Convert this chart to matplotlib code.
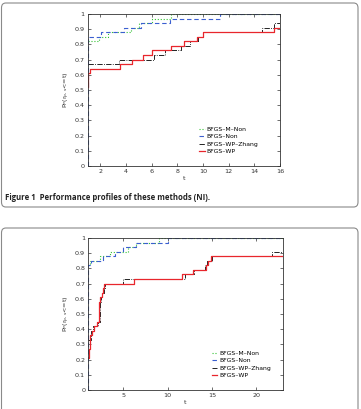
import matplotlib
matplotlib.use("Agg")
import numpy as np
import matplotlib.pyplot as plt
from matplotlib.patches import FancyBboxPatch

# ---- panel 1 (NI) ----
ni_wp_t = [1.0, 1.03, 1.18, 3.52, 4.5, 5.34, 6.0, 7.5, 8.54, 9.5, 10.0, 15.53, 16.0]
ni_wp_p = [0.52, 0.61, 0.64, 0.67, 0.70, 0.73, 0.76, 0.79, 0.82, 0.85, 0.88, 0.91, 0.91]
ni_zhang_t = [1.0, 3.47, 6.2, 7.0, 8.3, 9.0, 9.6, 10.0, 14.57, 15.55, 16.0]
ni_zhang_p = [0.67, 0.70, 0.73, 0.76, 0.79, 0.82, 0.85, 0.88, 0.91, 0.94, 0.94]
ni_non_t = [1.0, 1.0, 2.09, 3.83, 5.2, 7.4, 11.3, 16.0]
ni_non_p = [0.0, 0.85, 0.88, 0.91, 0.94, 0.97, 1.0, 1.0]
ni_mnon_t = [1.0, 1.9, 2.6, 4.4, 5.0, 6.0, 7.5, 16.0]
ni_mnon_p = [0.82, 0.85, 0.88, 0.91, 0.94, 0.97, 1.0, 1.0]

# ---- panel 2 ----
b_wp_t = [1.0, 1.1, 1.25, 1.48, 1.7, 1.97, 2.27, 2.39, 2.53, 2.65, 2.84, 6.15, 11.6, 12.9, 14.3, 14.5, 14.9, 23.0]
b_wp_p = [0.21, 0.27, 0.36, 0.39, 0.42, 0.45, 0.58, 0.61, 0.64, 0.67, 0.70, 0.73, 0.76, 0.79, 0.82, 0.85, 0.88, 0.88]
b_zhang_t = [1.0, 1.3, 1.6, 2.1, 2.3, 2.45, 2.6, 2.75, 2.95, 4.9, 11.9, 13.0, 14.2, 14.45, 15.0, 21.8, 23.0]
b_zhang_p = [0.33, 0.39, 0.42, 0.45, 0.58, 0.61, 0.64, 0.67, 0.70, 0.73, 0.76, 0.79, 0.82, 0.85, 0.88, 0.91, 0.91]
b_non_t = [1.0, 1.0, 1.3, 2.65, 4.0, 5.0, 6.4, 10.0, 23.0]
b_non_p = [0.0, 0.82, 0.85, 0.88, 0.91, 0.94, 0.97, 1.0, 1.0]
b_mnon_t = [1.0, 1.2, 2.4, 3.5, 5.5, 6.4, 9.0, 23.0]
b_mnon_p = [0.82, 0.85, 0.88, 0.91, 0.94, 0.97, 1.0, 1.0]

labels = ["BFGS\u2013M\u2013Non", "BFGS\u2013Non", "BFGS\u2013WP\u2013Zhang", "BFGS\u2013WP"]
RED = "#e8262c"
BLUE = "#3b5fd0"
GREEN = "#35c435"

W, H = 361, 409
fig = plt.figure(figsize=(W / 100, H / 100), dpi=100)


def px_axes(left, top, right, bottom):
    return fig.add_axes([left / W, 1 - bottom / H, (right - left) / W, (bottom - top) / H])


def draw(ax, data, xlim, xticks, leg_x):
    (mt, mp), (nt, np_), (zt, zp), (wt, wp) = data
    ax.step(mt, mp, where="post", color=GREEN, ls=":", lw=0.8, label=labels[0])
    ax.step(nt, np_, where="post", color=BLUE, ls=(0, (4, 2.5)), lw=0.8, label=labels[1])
    ax.step(zt, zp, where="post", color="black", ls="-.", lw=0.6, label=labels[2])
    ax.step(wt, wp, where="post", color=RED, ls="-", lw=0.9, label=labels[3])
    ax.set_xlim(*xlim)
    ax.set_ylim(0, 1)
    ax.set_xticks(xticks)
    ax.set_yticks(np.round(np.arange(0, 1.01, 0.1), 1))
    ax.set_yticklabels(["0"] + ["%.1f" % v for v in np.arange(0.1, 0.95, 0.1)] + ["1"])
    ax.tick_params(direction="in", top=True, right=True, labelsize=4.6, length=2, width=0.5,
                   pad=2, colors="#333333")
    for s in ax.spines.values():
        s.set_linewidth(0.6)
        s.set_color("#333333")
    ax.set_xlabel("t", fontsize=4.6, labelpad=1.5, color="#333333")
    ax.set_ylabel(r"P$_P$(r$_{p,s}$<=t)", fontsize=4.6, labelpad=2, color="#333333")
    ax.legend(loc="lower right", bbox_to_anchor=(leg_x, 0.05), frameon=False, fontsize=4.4,
              handlelength=0.9, handletextpad=0.3, labelspacing=0.35, borderpad=0.2)


# outer rounded frames
for (x0, y0, x1, y1) in [(1.5, 3, 358, 207), (1.5, 228, 358, 420)]:
    fig.patches.append(FancyBboxPatch((x0 / W, 1 - y1 / H), (x1 - x0) / W, (y1 - y0) / H,
                                      boxstyle="round,pad=0,rounding_size=0.012",
                                      transform=fig.transFigure, fill=False,
                                      ec="#8a8a8a", lw=0.8))

ax1 = px_axes(87.5, 14, 280, 166)
draw(ax1, [(ni_mnon_t, ni_mnon_p), (ni_non_t, ni_non_p), (ni_zhang_t, ni_zhang_p), (ni_wp_t, ni_wp_p)],
     (1, 16), [2, 4, 6, 8, 10, 12, 14, 16], 0.91)

ax2 = px_axes(88, 238, 283, 390)
draw(ax2, [(b_mnon_t, b_mnon_p), (b_non_t, b_non_p), (b_zhang_t, b_zhang_p), (b_wp_t, b_wp_p)],
     (1, 23), [5, 10, 15, 20], 0.96)

fig.text(5 / W, 1 - 197 / H, "Figure 1  Performance profiles of these methods (NI).",
         fontsize=5.6, fontweight="bold", family="Open Sans", va="center", ha="left",
         color="#222222")

fig.savefig("out.png", dpi=100)
